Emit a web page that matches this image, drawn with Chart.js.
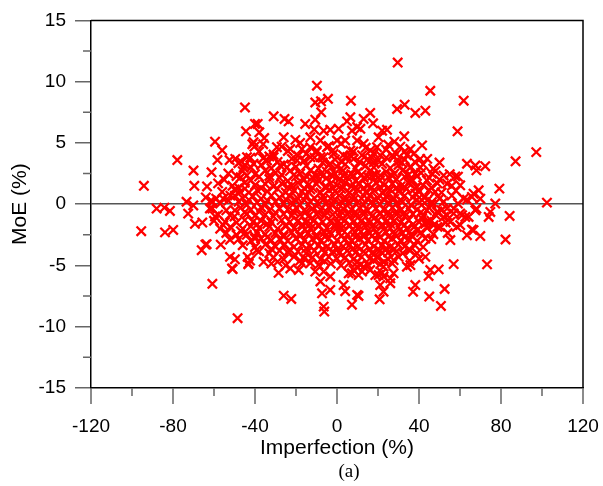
<!DOCTYPE html>
<html><head><meta charset="utf-8">
<script src="https://cdn.jsdelivr.net/npm/chart.js@4/dist/chart.umd.min.js"></script>
<style>html,body{margin:0;padding:0;background:#fff}#wrap{width:603px;height:486px;position:relative}</style>
</head><body><div id="wrap"><canvas id="c" width="603" height="486"></canvas></div>
<script>
const xLabelValues = [-120,-80,-40,0,40,80,120];
const xMinorValues = [-100,-60,-20,20,60,100];
const yLabelValues = [-15,-10,-5,0,5,10,15];
const yMinorValues = [-12.5,-7.5,-2.5,2.5,7.5,12.5];
const xTitle = 'Imperfection (%)';
const yTitle = 'MoE (%)';
const panelLabel = '(a)';

// individually read points [imperfection %, MoE %]
const sparsePoints = [[-95.5,-2.2],[-94.2,1.5],[-88,-0.36],[-84.2,-0.28],[-81.5,-0.55],[-83.9,-2.3],[-79.9,-2.1],[-77.9,3.6],[-73.4,0.2],[-72.6,-0.77],[-70.1,-0.1],[-70,2.75],[-69.6,1.5],[-69.3,-1.6],[-65.7,-1.5],[-66,-3.75],[-64.2,-3.3],[-63.6,-3.26],[-63.4,1.45],[-61.2,2.6],[-61.5,0.3],[-60.8,0.2],[-60.8,-0.36],[-60.8,-6.5],[-59.5,5.1],[-59.5,-1.0],[-58.9,0.45],[-58.3,3.6],[-57,-2.0],[-56.7,-3.3],[-56,4.4],[-55.5,0.45],[-55.5,-1.7],[-54.6,-1.45],[-53,0.3],[-52.4,3.6],[-52.2,-2.9],[-52.2,-0.9],[-52.2,-4.3],[-51.2,-5.24],[-50.9,-5.3],[-49.8,0.7],[-49.8,-0.5],[-49.8,-4.5],[-49.6,3.7],[-49,2.3],[-49,-2.5],[-48.5,-9.3],[-48.1,3.35],[-47.3,1.0],[-46.9,-2.2],[-45.6,3.0],[-44.9,7.9],[-44.9,3.2],[-44.9,1.27],[-44.4,5.95],[-43.9,3.84],[-43.6,-4.3],[-43.3,-4.9],[-43.1,-4.83],[-42.4,-4.6],[-42.3,3.8],[-41.3,4.9],[-40.7,5.06],[-40.7,3.3],[-40.3,4.7],[-40,6.55],[-40,-2.8],[-39.2,-3.75],[-38.7,6.55],[-37.9,5.87],[-35.8,-4.7],[-35.5,5.4],[-34.1,3.57],[-30.9,7.17],[-30.9,3.84],[-29.3,4.65],[-28.5,-5.6],[-27.7,3.16],[-26,5.46],[-26,-7.46],[-25.6,6.96],[-24.4,3.02],[-23.6,6.76],[-22.8,4.5],[-22.8,-5.24],[-22.3,-7.73],[-20.3,5.25],[-19.5,3.57],[-18.7,-5.37],[-17.1,4.5],[-17.1,-4.83],[-15.5,6.55],[-13,5.46],[-13,4.65],[-13,3.84],[-11.1,6.1],[-10.6,8.3],[-10.6,6.9],[-10.6,-5.5],[-9.8,9.67],[-9.8,4.38],[-8.1,5.2],[-8.1,-6.3],[-7.8,8.4],[-7.7,7.5],[-7.3,-7.27],[-6.5,6.0],[-6.5,3.84],[-6.5,-8.36],[-6.5,-5.5],[-6.2,-8.76],[-4.9,4.65],[-4.4,8.6],[-3.3,6.07],[-3.3,3.3],[-3.3,-7.0],[-3.3,-5.9],[-1.7,4.1],[0,5.2],[0.8,6.15],[3.2,-6.6],[4,5.2],[4,-7.1],[4.9,6.76],[5.7,-5.64],[6.5,7.1],[6.5,4.38],[6.8,8.45],[7.3,6.0],[7.3,-8.2],[7.3,-5.64],[8.1,3.7],[8.1,-5.37],[9.8,6.3],[9.8,5.2],[9.8,-5.1],[9.8,-7.4],[10.5,-7.49],[10.5,-5.78],[11.4,6.15],[11.4,-4.97],[12.2,4.0],[12.2,-5.5],[13,6.96],[13,4.93],[13,-5.1],[16.2,7.45],[16.2,4.38],[16.2,-5.37],[17.6,6.6],[17.9,3.43],[18.7,-5.78],[19.5,4.65],[19.5,-4.3],[20.3,5.46],[20.3,-5.78],[20.8,-7.76],[21.1,4.0],[21.1,-4.89],[21.1,-6.6],[22,6.0],[22,-5.6],[22.7,-5.9],[22.7,-7.14],[22.7,-5.1],[23.6,-3.75],[24.4,6.07],[26,-6.45],[26,-6.05],[27.6,3.84],[27.6,-4.56],[27.6,-5.64],[29.3,7.77],[29.6,11.56],[30.9,4.7],[31.7,3.4],[32.8,5.54],[33,8.12],[34.1,4.0],[34.1,-5.1],[35.4,-4.62],[35.8,4.5],[35.8,3.0],[35.8,1.94],[35.8,-3.75],[35.8,-4.97],[37.1,-7.14],[37.4,4.1],[38.2,7.45],[38.2,2.49],[38.2,0.86],[38.2,-6.6],[39,1.4],[39,-2.12],[39,-4.0],[40.6,3.7],[40.6,3.0],[41.5,4.8],[41.5,0.32],[41.5,-1.17],[43.1,7.63],[43.1,-2.8],[43.1,-4.3],[43.9,1.94],[43.9,-0.5],[43.9,-1.45],[44.7,-5.86],[45,-7.54],[45.5,9.26],[45.5,-5.37],[46.3,2.49],[46.3,0.18],[47.1,-1.72],[47.9,1.0],[48.8,-0.63],[49.6,-5.32],[50,3.4],[50.3,-1.85],[50.7,-8.3],[52,2.35],[52.5,-6.92],[53.7,1.67],[53.7,-0.36],[53.7,-0.9],[55.3,-1.45],[55.3,-2.93],[56.9,-0.76],[56.9,-4.89],[57.7,2.27],[58.5,-1.85],[58.8,5.95],[60.1,1.54],[60.1,-0.76],[60.1,-1.7],[61,-0.9],[61.8,8.45],[61.8,0.45],[62.6,-1.04],[63.4,3.3],[63.4,0.37],[63.4,-2.53],[64.2,-1.04],[65.8,0.59],[65.8,-2.07],[66.6,0.86],[66.6,-2.12],[67.5,3.16],[67.5,-0.5],[68,2.76],[68,-0.36],[69.1,1.13],[69.9,0.45],[69.9,-2.6],[72.3,3.1],[73.2,-4.91],[74,-1.04],[74.8,-0.63],[77.2,0.05],[79.2,1.27],[82.2,-2.88],[84.2,-0.96],[87.1,3.5],[97.2,4.25],[102.4,0.13]];

// estimated points of the dense central cloud
const densePoints = [
[-36,4.9],[-27,4.7],[-18,5.0],[-4,4.75],[2,4.95],[14,4.6],[25,4.85],[28,5.1],
[-38,4.3],[-31,4.05],[-24,4.35],[-15,4.1],[-10,4.25],[-2,4.4],[3,4.0],[8,4.3],[18,4.15],[24,4.45],[29,4.1],[33,4.3],
[-33,3.9],[-19,3.95],[-8,3.85],[7,3.9],[17,3.8],[27,4.0],
[-47,3.5],[-36,3.75],[-29,3.45],[-22,3.7],[-16,3.55],[-11,3.8],[-7,3.4],[-1,3.65],[2,3.5],[5,3.85],[11,3.45],[15,3.7],[20,3.55],[24,3.8],[30,3.5],[33,3.65],[38,3.45],[44,3.7],
[-42,3.0],[-37,3.2],[-32,2.95],[-26,3.25],[-20,3.05],[-15,3.15],[-9,2.9],[-4,3.2],[0,3.05],[4,3.25],[9,2.95],[14,3.15],[18,3.0],[22,3.3],[26,2.95],[30,3.2],[36,3.05],[42,3.25],[47,2.9],
[-53,2.5],[-46,2.7],[-40,2.45],[-35,2.75],[-30,2.55],[-27,2.4],[-23,2.7],[-18,2.5],[-13,2.75],[-8,2.45],[-5,2.65],[-1,2.5],[3,2.75],[7,2.45],[10,2.6],[16,2.7],[19,2.4],[24,2.65],[28,2.5],[32,2.75],[41,2.55],[48,2.7],[55,2.45],
[-44,2.35],[-33,2.3],[-21,2.4],[-15,2.3],[-10,2.35],[-3,2.4],[3,2.3],[8,2.35],[12,2.4],[15,2.25],[21,2.35],[27,2.3],[35,2.4],[39,2.3],
[-55,2.0],[-47,2.2],[-42,1.95],[-38,2.25],[-33,2.05],[-28,2.15],[-24,1.9],[-20,2.25],[-16,2.0],[-12,2.2],[-9,1.95],[-5,2.15],[-2,2.3],[1,2.0],[5,2.2],[9,1.9],[13,2.15],[17,2.3],[21,1.95],[25,2.2],[29,2.05],[33,2.25],[37,1.95],[45,2.15],[50,2.0],[59,2.25],
[-58,1.7],[-51,1.5],[-45,1.75],[-40,1.55],[-35,1.65],[-31,1.45],[-27,1.7],[-22,1.5],[-19,1.75],[-14,1.55],[-10,1.65],[-6,1.4],[-3,1.7],[0,1.55],[4,1.75],[7,1.45],[11,1.65],[15,1.5],[19,1.75],[23,1.55],[27,1.65],[31,1.45],[35,1.7],[42,1.55],[49,1.7],[56,1.5],
[-48,1.35],[-37,1.3],[-24,1.4],[-16,1.3],[-12,1.35],[-5,1.4],[-2,1.3],[3,1.35],[9,1.4],[13,1.3],[17,1.35],[21,1.4],[25,1.3],[29,1.35],[33,1.4],[38,1.3],[46,1.35],
[-56,1.0],[-50,1.2],[-43,0.95],[-39,1.15],[-34,1.05],[-29,1.25],[-25,0.95],[-21,1.15],[-17,1.0],[-13,1.2],[-8,0.95],[-4,1.15],[-1,1.05],[2,1.25],[6,0.95],[10,1.2],[14,1.0],[18,1.15],[22,0.95],[26,1.2],[30,1.05],[34,1.25],[40,1.0],[45,1.15],[51,0.95],[58,1.1],
[-64,0.55],[-52,0.7],[-46,0.5],[-41,0.65],[-37,0.45],[-32,0.7],[-28,0.55],[-23,0.65],[-19,0.45],[-15,0.7],[-11,0.5],[-7,0.65],[-3,0.45],[1,0.7],[4,0.55],[8,0.65],[12,0.45],[16,0.7],[20,0.5],[24,0.65],[28,0.45],[33,0.7],[37,0.55],[43,0.6],[50,0.45],[56,0.7],
[-43,0.35],[-34,0.3],[-25,0.4],[-20,0.3],[-16,0.35],[-7,0.3],[-1,0.4],[4,0.3],[8,0.35],[15,0.4],[19,0.3],[23,0.35],[27,0.4],[31,0.3],[39,0.35],[44,0.3],
[-57,0.05],[-48,0.2],[-44,-0.05],[-39,0.15],[-35,0.0],[-30,0.2],[-26,0.05],[-22,0.15],[-18,-0.05],[-13,0.2],[-9,0.0],[-5,0.15],[-2,-0.05],[2,0.2],[6,0.05],[10,0.15],[13,-0.05],[17,0.2],[21,0.0],[25,0.15],[29,0.05],[32,0.2],[36,-0.05],[40,0.15],[46,0.0],[52,0.2],[59,0.05],
[-62,-0.35],[-54,-0.5],[-47,-0.3],[-42,-0.45],[-37,-0.25],[-33,-0.5],[-28,-0.35],[-24,-0.45],[-20,-0.3],[-16,-0.5],[-12,-0.35],[-8,-0.45],[-4,-0.25],[0,-0.5],[3,-0.35],[7,-0.45],[11,-0.3],[15,-0.5],[19,-0.35],[23,-0.45],[27,-0.3],[31,-0.5],[35,-0.35],[39,-0.45],[45,-0.3],[51,-0.5],[57,-0.35],
[-45,-0.65],[-38,-0.6],[-30,-0.7],[-21,-0.65],[-15,-0.6],[-9,-0.7],[-5,-0.65],[2,-0.6],[6,-0.7],[9,-0.65],[13,-0.6],[21,-0.7],[25,-0.65],[29,-0.6],[33,-0.7],[41,-0.65],[49,-0.6],
[-58,-0.85],[-50,-1.0],[-44,-0.8],[-40,-0.95],[-35,-0.85],[-31,-1.0],[-26,-0.8],[-22,-0.95],[-18,-0.85],[-14,-1.0],[-10,-0.8],[-6,-0.95],[-2,-0.85],[1,-1.0],[5,-0.8],[9,-0.95],[13,-0.85],[17,-1.0],[21,-0.8],[25,-0.95],[29,-0.85],[33,-1.0],[37,-0.8],[42,-0.95],[48,-0.85],[52,-1.05],
[-60,-1.35],[-49,-1.5],[-45,-1.3],[-41,-1.45],[-37,-1.35],[-32,-1.5],[-27,-1.3],[-23,-1.45],[-19,-1.35],[-15,-1.5],[-11,-1.3],[-7,-1.45],[-3,-1.35],[0,-1.5],[4,-1.3],[8,-1.45],[12,-1.35],[16,-1.5],[20,-1.3],[24,-1.45],[28,-1.35],[31,-1.5],[35,-1.3],[40,-1.45],[46,-1.35],[53,-1.5],
[-39,-1.65],[-34,-1.6],[-25,-1.7],[-17,-1.65],[-13,-1.6],[-9,-1.7],[-1,-1.65],[2,-1.6],[6,-1.7],[10,-1.65],[14,-1.6],[18,-1.7],[22,-1.65],[26,-1.6],[33,-1.7],[37,-1.65],[43,-1.6],
[-52,-1.85],[-46,-2.0],[-42,-1.8],[-38,-1.95],[-33,-1.85],[-29,-2.0],[-25,-1.8],[-21,-1.95],[-17,-1.85],[-13,-2.0],[-9,-1.8],[-5,-1.95],[-1,-1.85],[2,-2.0],[6,-1.8],[10,-1.95],[14,-1.85],[18,-2.0],[22,-1.8],[26,-1.95],[30,-1.85],[34,-2.0],[38,-1.8],[44,-1.95],[49,-1.85],
[-54,-2.35],[-44,-2.5],[-39,-2.3],[-35,-2.45],[-30,-2.35],[-26,-2.5],[-22,-2.3],[-18,-2.45],[-14,-2.35],[-10,-2.5],[-6,-2.3],[-3,-2.45],[1,-2.35],[5,-2.5],[9,-2.3],[13,-2.45],[16,-2.35],[20,-2.5],[24,-2.3],[28,-2.45],[32,-2.35],[36,-2.5],[41,-2.3],[47,-2.45],[54,-2.35],
[-40,-2.65],[-34,-2.7],[-26,-2.65],[-18,-2.6],[-10,-2.7],[-6,-2.65],[2,-2.6],[9,-2.7],[13,-2.65],[17,-2.6],[21,-2.7],[25,-2.65],[29,-2.6],[33,-2.7],[37,-2.65],
[-48,-2.85],[-42,-3.0],[-37,-2.8],[-32,-2.95],[-28,-2.85],[-24,-3.0],[-20,-2.8],[-16,-2.95],[-12,-2.85],[-8,-3.0],[-4,-2.8],[0,-2.95],[4,-2.85],[7,-3.0],[11,-2.8],[15,-2.95],[19,-2.85],[23,-3.0],[27,-2.8],[31,-2.95],[35,-2.85],[39,-3.0],[46,-2.85],
[-46,-3.35],[-40,-3.5],[-35,-3.3],[-30,-3.45],[-26,-3.35],[-21,-3.5],[-17,-3.3],[-13,-3.45],[-9,-3.35],[-5,-3.5],[-1,-3.3],[3,-3.45],[6,-3.35],[10,-3.5],[14,-3.3],[18,-3.45],[22,-3.35],[26,-3.5],[30,-3.3],[33,-3.45],[38,-3.35],[42,-3.5],
[-32,-3.65],[-23,-3.7],[-15,-3.6],[-7,-3.65],[0,-3.7],[8,-3.6],[16,-3.65],[20,-3.7],[24,-3.6],[28,-3.65],[35,-3.7],
[-38,-3.85],[-33,-4.0],[-28,-3.8],[-24,-3.95],[-19,-3.85],[-15,-4.0],[-11,-3.8],[-6,-3.95],[-2,-3.85],[1,-4.0],[5,-3.8],[9,-3.95],[13,-3.85],[17,-4.0],[21,-3.8],[25,-3.95],[29,-3.85],[32,-4.0],
[-31,-4.35],[-26,-4.5],[-21,-4.3],[-16,-4.45],[-12,-4.35],[-8,-4.5],[-4,-4.3],[0,-4.45],[4,-4.35],[8,-4.5],[12,-4.3],[16,-4.45],[20,-4.35],[25,-4.5],[30,-4.3],[40,-4.45],
[-29,-4.7],[-18,-4.6],[-6,-4.65],[10,-4.7],[18,-4.6],[23,-4.7],
[-32,-4.85],[-25,-5.0],[-13,-4.8],[-9,-4.95],[-3,-4.85],[2,-5.0],[6,-4.8],[15,-4.95],[27,-4.85]
];

const framePlugin = {
  id: 'frame',
  afterDraw(chart) {
    const {ctx, chartArea: a, scales: {x, y}} = chart;
    ctx.save();
    ctx.strokeStyle = '#000'; ctx.lineWidth = 1.5;
    ctx.beginPath();
    ctx.moveTo(a.left, a.top); ctx.lineTo(a.right, a.top); ctx.lineTo(a.right, a.bottom);
    ctx.stroke();
    ctx.strokeStyle = '#666'; ctx.lineWidth = 1.5;
    ctx.beginPath();
    xLabelValues.forEach(v => { const px = x.getPixelForValue(v); ctx.moveTo(px, a.bottom); ctx.lineTo(px, a.bottom + 16); });
    xMinorValues.forEach(v => { const px = x.getPixelForValue(v); ctx.moveTo(px, a.bottom); ctx.lineTo(px, a.bottom + 8); });
    yMinorValues.forEach(v => { const py = y.getPixelForValue(v); ctx.moveTo(a.left - 8, py); ctx.lineTo(a.left, py); });
    ctx.stroke();
    ctx.fillStyle = '#000';
    ctx.font = '19px "Liberation Serif", "Times New Roman", serif';
    ctx.textAlign = 'center'; ctx.textBaseline = 'middle';
    ctx.fillText(panelLabel, (a.left + a.right) / 2 + 12, 472);
    ctx.restore();
  }
};

const tickFont = {family: '"Liberation Sans", Arial, sans-serif', size: 19};
const titleFont = {family: '"Liberation Sans", Arial, sans-serif', size: 21};

new Chart(document.getElementById('c'), {
  type: 'scatter',
  data: {
    datasets: [{
      data: sparsePoints.concat(densePoints).map(p => ({x: p[0], y: p[1]})),
      pointStyle: 'crossRot',
      radius: 6.6, hoverRadius: 6.6,
      borderColor: '#ff0000', backgroundColor: '#ff0000',
      borderWidth: 2.3
    }]
  },
  options: {
    responsive: false, animation: false, devicePixelRatio: 1,
    layout: {autoPadding: false, padding: {left: 0, right: 20, top: 19, bottom: 0}},
    plugins: {legend: {display: false}, tooltip: {enabled: false}, title: {display: false}},
    scales: {
      x: {
        type: 'linear', min: -120, max: 120,
        afterBuildTicks: s => { s.ticks = xLabelValues.map(v => ({value: v})); },
        ticks: {font: tickFont, color: '#000', padding: 4, maxRotation: 0, autoSkip: false},
        grid: {drawOnChartArea: false, drawTicks: true, tickLength: 23, tickColor: 'rgba(0,0,0,0)'},
        border: {display: true, color: '#000', width: 1.5},
        title: {display: true, text: xTitle, font: titleFont, color: '#000', padding: {top: 0, bottom: 25}},
        afterFit: s => { s.height = 98; }
      },
      y: {
        type: 'linear', min: -15, max: 15,
        afterBuildTicks: s => { s.ticks = yLabelValues.map(v => ({value: v})); },
        ticks: {font: tickFont, color: '#000', padding: 9, autoSkip: false},
        grid: {
          drawOnChartArea: true, drawTicks: true, tickLength: 16, tickColor: '#666', tickWidth: 1.5,
          color: c => (c.tick && c.tick.value === 0) ? '#555' : 'rgba(0,0,0,0)',
          lineWidth: 1.5
        },
        border: {display: true, color: '#000', width: 1.5},
        title: {display: true, text: yTitle, font: titleFont, color: '#000', padding: {top: 8, bottom: 0}},
        afterFit: s => { s.width = 91; }
      }
    }
  },
  plugins: [framePlugin]
});
</script>
</body></html>
